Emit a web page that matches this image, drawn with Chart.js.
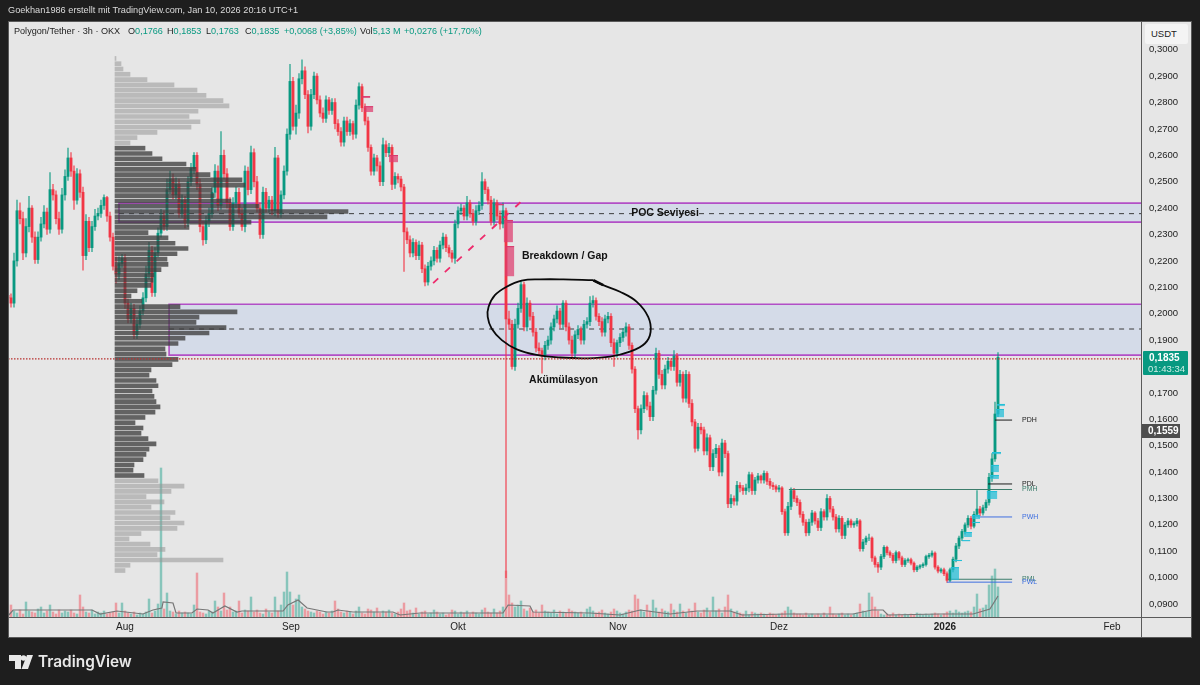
<!DOCTYPE html>
<html>
<head>
<meta charset="utf-8">
<title>Polygon/Tether</title>
<script src="https://cdn.jsdelivr.net/npm/chart.js@4"></script>
<style>
html,body{margin:0;padding:0;background:#1e1e1e;overflow:hidden;}
#wrap{position:relative;width:1200px;height:685px;font-family:"Liberation Sans",sans-serif;}
#chart{position:absolute;left:0;top:0;}
.t{position:absolute;white-space:nowrap;line-height:1;}
.l{top:27px;font-size:9.1px;}
.g{color:#089981;}
.k{color:#222;}
</style>
</head>
<body>
<div id="wrap">
<canvas id="chart" width="1200" height="685"></canvas>
<div class="t" style="left:8px;top:6px;font-size:9.2px;color:#dcdcdc;">Goekhan1986 erstellt mit TradingView.com, Jan 10, 2026 20:16 UTC+1</div>
<div class="t l k" style="left:14px;">Polygon/Tether · 3h · OKX</div>
<div class="t l k" style="left:128px;">O<span class="g">0,1766</span></div>
<div class="t l k" style="left:167px;">H<span class="g">0,1853</span></div>
<div class="t l k" style="left:206px;">L<span class="g">0,1763</span></div>
<div class="t l k" style="left:245px;">C<span class="g">0,1835</span></div>
<div class="t l g" style="left:284px;">+0,0068 (+3,85%)</div>
<div class="t l k" style="left:360px;">Vol<span class="g">5,13 M</span></div>
<div class="t l g" style="left:404px;">+0,0276 (+17,70%)</div>
<div class="t" style="left:1145px;top:24px;width:43px;height:20px;background:#f4f4f4;border-radius:2px;color:#222;font-size:9.5px;line-height:20px;text-indent:6px;">USDT</div>
<div class="t" style="left:1143px;top:351px;width:45px;height:24px;background:#089981;border-radius:1px;"></div>
<div class="t" style="left:1149px;top:353px;color:#fff;font-size:10px;font-weight:bold;">0,1835</div>
<div class="t" style="left:1148px;top:364px;color:#cfeee6;font-size:9.5px;">01:43:34</div>
<div class="t" style="left:1142px;top:424px;width:38px;height:14px;background:#4d4d4d;color:#fff;font-size:10px;font-weight:bold;line-height:14px;text-indent:6px;">0,1559</div>
<svg class="t" style="left:9px;top:655px;" width="24" height="15" viewBox="0 0 24 15"><path fill="#e8e8e8" d="M0 0h12v14H6V6H0z"/><circle fill="#e8e8e8" cx="14.5" cy="3" r="2.8"/><path fill="#e8e8e8" d="M18 0h6l-5 14h-6.5z"/></svg>
<div class="t" style="left:38px;top:654px;font-family:Inter,sans-serif;font-size:15.4px;font-weight:600;color:#e8e8e8;">TradingView</div>
</div>
<script>
// prices are in ten-thousandths of a USDT, x is the candle column
const closes = [
2060,2040,2200,2390,2360,2230,2330,2400,2290,2205,
2290,2340,2385,2320,2470,2450,2360,2320,2450,2520,
2590,2540,2430,2530,2460,2220,2350,2250,2330,2370,
2380,2410,2440,2370,2290,2180,2150,2190,2210,2040,
1980,2020,1920,1960,2010,2060,2150,2240,2080,2230,
2305,2370,2330,2470,2510,2450,2490,2380,2430,2345,
2500,2550,2600,2490,2330,2280,2350,2380,2460,2540,
2410,2600,2530,2420,2330,2420,2460,2380,2330,2540,
2470,2610,2500,2400,2300,2460,2400,2430,2390,2590,
2380,2450,2540,2680,2880,2710,2760,2890,2920,2830,
2710,2830,2900,2810,2760,2740,2810,2770,2800,2720,
2690,2650,2730,2690,2720,2680,2790,2860,2780,2730,
2630,2540,2590,2560,2500,2640,2610,2630,2490,2520,
2510,2480,2310,2280,2230,2270,2220,2260,2170,2120,
2180,2200,2240,2210,2260,2290,2250,2230,2210,2340,
2390,2400,2370,2420,2380,2350,2390,2410,2500,2470,
2430,2350,2420,2370,2340,2390,1980,1960,1800,1960,
2020,2110,1950,2040,1990,1930,1870,1860,1840,1880,
1900,1950,1980,2010,1960,2040,1950,1900,1850,1920,
1940,1900,1960,1970,2040,2050,1990,1970,1930,1980,
1990,1890,1850,1890,1910,1930,1950,1880,1790,1640,
1560,1640,1690,1650,1610,1710,1850,1770,1730,1790,
1820,1800,1840,1740,1770,1680,1770,1660,1590,1490,
1570,1560,1480,1530,1420,1470,1490,1400,1510,1470,
1280,1300,1290,1350,1340,1330,1340,1390,1330,1370,
1385,1370,1395,1365,1350,1345,1335,1340,1250,1170,
1270,1330,1300,1285,1240,1210,1170,1210,1245,1215,
1190,1250,1230,1300,1260,1230,1185,1225,1160,1200,
1215,1200,1205,1215,1110,1135,1150,1150,1075,1050,
1040,1080,1115,1095,1085,1065,1095,1075,1050,1065,
1068,1055,1030,1040,1045,1050,1080,1085,1093,1040,
1025,1030,1015,990,1030,1070,1120,1150,1175,1200,
1225,1195,1240,1260,1245,1265,1285,1380,1450,1620,1835];
const highs = [
2090,2075,2230,2430,2420,2385,2360,2445,2410,2310,
2310,2365,2410,2400,2535,2490,2465,2385,2475,2545,
2627,2610,2560,2550,2545,2480,2375,2365,2350,2395,
2400,2430,2450,2445,2385,2305,2215,2215,2225,2225,
2055,2040,2035,1985,2030,2080,2180,2270,2255,2250,
2325,2395,2390,2510,2540,2530,2515,2510,2450,2445,
2520,2570,2610,2610,2510,2350,2370,2400,2480,2565,
2560,2690,2620,2550,2440,2440,2480,2475,2400,2560,
2555,2635,2625,2520,2420,2480,2475,2445,2445,2630,
2600,2465,2560,2700,2945,2895,2790,2910,2962,2935,
2845,2850,2915,2910,2825,2780,2825,2820,2815,2815,
2735,2705,2745,2745,2735,2730,2810,2875,2870,2795,
2745,2640,2605,2600,2575,2665,2655,2645,2640,2535,
2530,2520,2490,2325,2295,2285,2280,2275,2270,2185,
2195,2215,2255,2250,2275,2305,2300,2260,2240,2355,
2405,2415,2410,2445,2430,2395,2410,2425,2535,2510,
2480,2445,2435,2430,2390,2420,2400,2010,1975,1980,
2040,2125,2120,2060,2050,2005,1945,1890,1870,1895,
1915,1965,1995,2030,2020,2050,2050,1965,1915,1935,
1955,1950,1975,1985,2065,2068,2060,2000,1985,1995,
2005,2000,1905,1900,1925,1945,1965,1960,1890,1800,
1650,1655,1705,1700,1665,1725,1870,1860,1785,1805,
1835,1830,1860,1850,1785,1780,1785,1780,1675,1600,
1585,1585,1570,1545,1540,1485,1505,1500,1525,1520,
1480,1315,1310,1365,1360,1350,1355,1400,1398,1380,
1395,1390,1405,1402,1375,1360,1352,1350,1345,1260,
1285,1340,1338,1310,1295,1250,1220,1222,1255,1250,
1225,1262,1258,1315,1308,1270,1240,1235,1232,1210,
1225,1222,1212,1225,1220,1145,1158,1165,1155,1082,
1058,1088,1122,1120,1102,1092,1102,1100,1082,1072,
1074,1074,1060,1046,1050,1056,1086,1092,1102,1098,
1046,1036,1036,1022,1036,1078,1130,1158,1183,1208,
1235,1232,1250,1330,1270,1275,1295,1395,1470,1665,1853];
const lows = [
2035,2025,2025,2180,2340,2205,2215,2310,2270,2190,
2190,2275,2325,2300,2305,2430,2340,2300,2305,2430,
2505,2520,2395,2415,2440,2165,2205,2235,2235,2315,
2355,2365,2395,2350,2275,2165,2115,2130,2175,2020,
1965,1965,1905,1905,1945,1995,2045,2130,2065,2065,
2215,2290,2315,2315,2455,2435,2435,2365,2365,2325,
2330,2485,2530,2470,2310,2260,2265,2330,2365,2440,
2390,2395,2510,2400,2315,2315,2400,2365,2315,2310,
2450,2455,2480,2385,2285,2285,2385,2385,2375,2370,
2365,2365,2435,2525,2660,2695,2680,2740,2870,2815,
2685,2695,2815,2795,2745,2725,2725,2755,2755,2700,
2675,2635,2635,2675,2675,2660,2665,2775,2765,2715,
2615,2525,2525,2540,2485,2485,2595,2595,2470,2475,
2495,2465,2160,2265,2215,2215,2205,2205,2155,2105,
2108,2165,2185,2195,2195,2245,2235,2215,2195,2190,
2325,2375,2355,2355,2365,2335,2335,2375,2395,2455,
2415,2335,2335,2355,2320,2325,1000,1940,1790,1785,
1945,2005,1935,1935,1975,1915,1855,1845,1775,1825,
1865,1885,1935,1965,1945,1945,1935,1885,1835,1830,
1905,1885,1885,1945,1955,2025,1975,1955,1915,1915,
1965,1875,1800,1835,1875,1895,1915,1865,1775,1625,
1525,1545,1625,1635,1595,1595,1695,1755,1715,1715,
1775,1785,1785,1725,1725,1665,1665,1645,1575,1475,
1480,1545,1465,1465,1405,1405,1455,1385,1385,1455,
1265,1265,1275,1275,1325,1315,1315,1325,1315,1315,
1358,1358,1358,1352,1338,1333,1325,1325,1240,1160,
1160,1258,1288,1273,1228,1198,1158,1160,1198,1203,
1178,1178,1218,1218,1248,1218,1172,1172,1148,1148,
1190,1190,1190,1195,1100,1100,1125,1140,1062,1040,
1020,1030,1072,1086,1076,1056,1056,1066,1042,1042,
1058,1048,1022,1023,1033,1038,1044,1073,1078,1032,
1018,1018,1008,982,985,1022,1060,1110,1140,1165,
1190,1185,1188,1232,1235,1237,1255,1275,1365,1440,1610];
const volumes = [
5,12,6,4,7,3,15,6,5,4,
8,10,4,6,12,5,3,7,4,6,
5,7,4,3,22,10,5,4,7,3,
5,4,6,3,4,5,14,4,14,6,
4,3,5,2,4,3,5,18,4,6,
13,149,8,24,6,5,3,6,4,5,
4,3,12,44,5,4,3,6,5,16,
10,6,24,7,10,5,6,16,4,7,
6,20,5,7,4,3,8,5,4,20,
6,12,25,45,25,12,18,22,10,8,
6,5,4,6,5,3,5,4,6,16,
8,5,4,6,5,3,6,10,4,3,
8,7,5,9,4,6,5,7,4,3,
5,8,14,6,7,4,9,3,5,6,
3,4,7,5,3,4,2,3,7,6,
3,5,4,6,3,5,4,3,7,9,
5,4,8,4,6,10,46,22,14,10,
12,16,8,6,9,5,7,4,12,6,
5,4,7,3,6,5,4,8,6,5,
4,5,3,8,10,6,4,5,7,4,
3,5,8,6,4,3,5,7,6,22,
18,7,5,12,6,17,9,5,8,6,
5,13,7,5,13,6,4,8,6,14,
5,4,7,9,5,20,6,8,4,10,
22,8,5,6,4,3,6,2,5,4,
3,4,3,2,4,3,2,3,4,6,
10,7,4,3,3,2,4,2,3,2,
3,2,4,2,10,3,2,3,4,2,
3,2,3,4,13,6,5,24,20,10,
6,3,2,3,2,4,2,3,2,3,
2,3,2,4,3,2,3,2,3,4,
3,2,3,5,6,4,7,5,4,5,
6,5,10,23,8,9,12,32,41,48,30];
const volMaColumns = [0.3,1.7,5.7,14,24,28,30.7,36.3,45,48.3,51.3,51.7,55,56,61.3,63,66.7,68.3,72.3,76.3,78,91.7,93.3,96.7,99.7,106.3,108.3,110,115,128.3,130.7,137.3,147.3,157.3,165,166.7,174,175,194,204,210.7,220.7,229.7,240.7,244.7,259.7,281.7,288,291.7,293.3,310.7,321.7,327.3,330];
const volMaValues = [2,7,7,7,7,7,3,6,3,7,9,15,14,4,4,8,7,4,11,5,6,6,12,17,9,5,5,7,5,5,2,4,4,4,4,12,11,5,4,2,7,3,6,6,2,3,3,7,7,2,3,3,8,21];

// volume profile rows, top row first, one row every 20 price units
const profileTop = 2967;
const profileStep = 20;
const profileUpper = [1,6,8,15,32,59,82,91,108,114,83,74,85,76,42,22,15];
const profileMiddle = [30,37,47,71,81,95,127,130,97,99,116,144,233,212,136,74,33,53,60,73,62,52,53,46,39,38,36,22,16,27,65,122,84,81,111,94,70,63,50,51,63,57,36,34,41,43,37,39,41,45,40,30,20,28,26,33,41,34,31,28,19,18,29];
const profileLower = [43,69,56,31,49,36,60,55,69,62,26,14,35,50,42,108,15,10];

const tickColumns = [39,94.33,150,203.3,257,312.3,368];
const tickLabels = ['Aug','Sep','Okt','Nov','Dez','2026','Feb'];

// purple zones
const zoneStart = [37,53.7];
const zoneEnd = [378,378];
const zoneTop = [2419,2036];
const zoneBottom = [2347,1843];
const zoneMid = [2379,1942];

// key levels on the right
const levelNames = ['PDH','PDL','PMH','PWH','PML','PWL'];
const levelStart = [329,326.7,260.3,323.3,313.3,313];
const levelPrice = [1597,1355,1334,1230,994,983];
const levelEnd = 334.7;
const lastPrice = 1829;

// imbalance blocks: [start, end, top, bottom]
const cyanBlocks = [[329.7,332.3,1658,1650],[329.3,332,1639,1608],[328,331,1476,1468],[327.7,330.3,1427,1400],[327.3,330.3,1389,1374],[326.3,329.7,1328,1298],[321.3,324,1237,1222],[321.3,324,1211,1207],[318.7,321.3,1173,1154],[318,320.7,1142,1139],[315,318,1067,1063],[314.3,317,1040,991]];
const pinkBlocks = [[118,120.7,2824,2817],[118.7,121.7,2786,2764],[127,130,2601,2574],[162.3,165.3,2415,2411],[165.3,168.3,2355,2271],[165.7,168.7,2256,2142]];

const trendColumns = [141.7,172.7];
const trendPrices = [2116,2442];
const circleColumns = [195.1,185.1,177.3,171.2,166.2,162.3,160.2,159.9,161.2,164.6,169.6,176.2,184,192.9,200.7,207.3,212.3,214.2,213.4,209.6,204,198.4,195.1];
const circlePrices = [2127,2130,2130,2125,2102,2070,2026,1988,1944,1900,1865,1844,1834,1831,1837,1856,1887,1931,1988,2045,2083,2108,2125];
const arrowColumns = [195.1,198.4];
const arrowPrices = [2127,2108];

const upColor = '#089981';
const downColor = '#f23645';
const opens = closes.map((c, i) => i ? closes[i - 1] : 2070);
const isUp = i => closes[i] >= opens[i];
const candleColor = ctx => isUp(ctx.dataIndex) ? upColor : downColor;

const profileValues = profileUpper.concat(profileMiddle, profileLower);
const darkFrom = profileUpper.length;
const darkTo = darkFrom + profileMiddle.length;

function pairs(xs, ys) {
	return xs.map((x, i) => ({x: x, y: ys[i]}));
}

function lineSet(data, color, width, dash, tension) {
	return {
		type: 'line', data: data, order: 1, xAxisID: 'x', yAxisID: 'y',
		borderColor: color, borderWidth: width, borderDash: dash || [],
		pointRadius: 0, tension: tension || 0, fill: false,
	};
}

const levelColors = ['#1c1c1c','#1c1c1c','#3c7d6c','#3f6fe0','#3c7d6c','#3f6fe0'];
const levelSets = levelPrice.map((p, i) => lineSet(pairs([levelStart[i], levelEnd], [p, p]), levelColors[i], 1));

// zones go under the candles, blocks and texts over them
const overlays = {
	id: 'overlays',
	beforeDraw(chart) {
		const c = chart.ctx;
		c.save();
		c.fillStyle = '#e6e6e6';
		c.fillRect(8, 21, 1184, 617);
		c.restore();
	},
	beforeDatasetsDraw(chart) {
		const c = chart.ctx, x = chart.scales.x, y = chart.scales.y;
		c.save();
		zoneTop.forEach((top, i) => {
			const l = x.getPixelForValue(zoneStart[i]), r = x.getPixelForValue(zoneEnd[i]);
			const t = y.getPixelForValue(top), b = y.getPixelForValue(zoneBottom[i]);
			c.fillStyle = '#d4dbe8';
			c.fillRect(l, t, r - l, b - t);
			c.strokeStyle = '#b24fc6';
			c.lineWidth = 1.6;
			c.beginPath();
			c.moveTo(r, t); c.lineTo(l, t); c.lineTo(l, b); c.lineTo(r, b);
			c.stroke();
			const m = y.getPixelForValue(zoneMid[i]);
			c.strokeStyle = '#3c3c3c';
			c.lineWidth = 1;
			c.setLineDash([5, 5]);
			c.beginPath();
			c.moveTo(l, m); c.lineTo(r, m);
			c.stroke();
			c.setLineDash([]);
		});
		c.restore();
	},
	afterDatasetsDraw(chart) {
		const c = chart.ctx, x = chart.scales.x, y = chart.scales.y;
		const block = (b, fill, edge) => {
			const l = x.getPixelForValue(b[0]), r = x.getPixelForValue(b[1]);
			const t = y.getPixelForValue(b[2]), h = y.getPixelForValue(b[3]) - t;
			c.fillStyle = fill;
			c.fillRect(l, t, r - l, h);
			c.fillStyle = edge;
			c.fillRect(l, t, r - l, 1);
		};
		c.save();
		cyanBlocks.forEach(b => block(b, 'rgba(38,190,215,.75)', '#23c0d8'));
		pinkBlocks.forEach(b => block(b, 'rgba(222,60,110,.72)', '#d9386c'));
		c.textBaseline = 'middle';
		c.fillStyle = '#111';
		c.font = 'bold 10.5px "Liberation Sans", sans-serif';
		c.textAlign = 'center';
		c.fillText('POC Seviyesi', x.getPixelForValue(219), y.getPixelForValue(2381));
		c.textAlign = 'left';
		c.fillText('Breakdown / Gap', x.getPixelForValue(171.3), y.getPixelForValue(2220));
		c.fillText('Akümülasyon', x.getPixelForValue(173.7), y.getPixelForValue(1750));
		c.font = '7px "Liberation Sans", sans-serif';
		levelNames.forEach((name, i) => {
			c.fillStyle = levelColors[i];
			c.fillText(name, x.getPixelForValue(338), y.getPixelForValue(levelPrice[i]));
		});
		c.restore();
	},
	afterDraw(chart) {
		const c = chart.ctx;
		c.save();
		c.strokeStyle = '#5a5a5a';
		c.lineWidth = 1;
		c.strokeRect(8.5, 21.5, 1183, 616);
		c.beginPath();
		c.moveTo(8, 617.5); c.lineTo(1192, 617.5);
		c.moveTo(1141.5, 21); c.lineTo(1141.5, 638);
		c.stroke();
		c.restore();
	}
};

new Chart(document.getElementById('chart'), {
	type: 'bar',
	data: {
		datasets: [
			{
				label: 'Volume', order: 6, xAxisID: 'x', yAxisID: 'yVol',
				data: pairs(volumes.map((v, i) => i), volumes),
				barThickness: 1.8, grouped: false,
				backgroundColor: ctx => isUp(ctx.dataIndex) ? 'rgba(8,153,129,.42)' : 'rgba(242,54,69,.42)',
			},
			Object.assign(lineSet(pairs(volMaColumns, volMaValues), '#777', 1.2), {order: 5, yAxisID: 'yVol'}),
			{
				label: 'Wicks', order: 4, xAxisID: 'x', yAxisID: 'y',
				data: closes.map((c, i) => ({x: i, y: [lows[i], highs[i]]})),
				barThickness: 1.2, grouped: false,
				backgroundColor: ctx => isUp(ctx.dataIndex) ? 'rgba(8,153,129,.6)' : 'rgba(242,54,69,.6)',
			},
			{
				label: 'Bodies', order: 3, xAxisID: 'x', yAxisID: 'y',
				data: closes.map((c, i) => ({x: i, y: [opens[i], c]})),
				barThickness: 2.2, grouped: false,
				backgroundColor: candleColor,
			},
			{
				label: 'Profile', order: 2, indexAxis: 'y', xAxisID: 'profX', yAxisID: 'y',
				data: profileValues.map((v, i) => ({x: v, y: profileTop - i * profileStep})),
				barThickness: 4, grouped: false,
				backgroundColor: ctx => (ctx.dataIndex >= darkFrom && ctx.dataIndex < darkTo) ? 'rgba(62,62,62,.78)' : 'rgba(150,150,150,.55)',
			},
			lineSet(pairs([0, 378], [lastPrice, lastPrice]), '#b8302f', 1.4, [1.5, 1.5]),
			lineSet(pairs(trendColumns, trendPrices), '#ee2b6c', 1.8, [7, 9]),
			lineSet(pairs(circleColumns, circlePrices), '#0a0a0a', 1.8, [], 0.4),
			lineSet(pairs(arrowColumns, arrowPrices), '#0a0a0a', 2.6),
			...levelSets,
		]
	},
	plugins: [overlays],
	options: {
		responsive: false,
		animation: false,
		layout: {padding: {left: 8, top: 22, right: 8, bottom: 48}},
		plugins: {legend: {display: false}, tooltip: {enabled: false}},
		scales: {
			x: {
				type: 'linear', axis: 'x', position: 'bottom', min: 0, max: 378, offset: false,
				grid: {display: false, drawTicks: false, offset: false}, border: {display: false},
				afterBuildTicks(ax) { ax.ticks = tickColumns.map(v => ({value: v})); },
				afterFit(ax) { ax.height = 20; },
				ticks: {
					autoSkip: false, maxRotation: 0, padding: 4, color: '#222',
					font: ctx => ({family: '"Liberation Sans", sans-serif', size: 10, weight: ctx.index === 5 ? 'bold' : 'normal'}),
					callback: (v, i) => tickLabels[i],
				},
			},
			y: {
				type: 'linear', axis: 'y', position: 'right', min: 851, max: 3105, offset: false, beginAtZero: false,
				grid: {display: false, drawTicks: false, offset: false}, border: {display: false},
				afterBuildTicks(ax) { ax.ticks = ax.ticks.filter(t => t.value <= 3000); },
				afterFit(ax) { ax.width = 50; },
				ticks: {
					stepSize: 100, includeBounds: false, autoSkip: false, padding: 7, color: '#222',
					font: {family: '"Liberation Sans", sans-serif', size: 9.5},
					callback: v => (v / 10000).toFixed(4).replace('.', ','),
				},
			},
			yVol: {type: 'linear', axis: 'y', display: false, min: 0, max: 595, offset: false},
			profX: {type: 'linear', axis: 'x', display: false, min: -107, max: 1027, offset: false},
		},
	},
});
</script>
</body>
</html>
